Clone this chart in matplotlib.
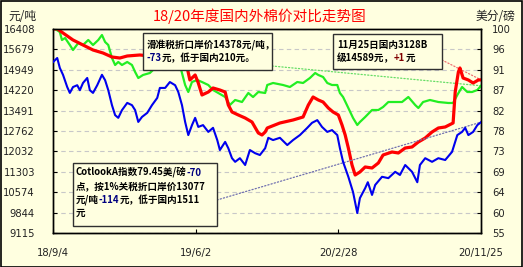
import matplotlib
matplotlib.use("Agg")
import matplotlib.pyplot as plt
import matplotlib.transforms as mtransforms
from matplotlib.patches import Rectangle
import numpy as np
import pandas as pd

plt.rcParams['font.family'] = ['Noto Sans CJK SC', 'DejaVu Sans']

BASE = pd.Timestamp('2018-09-04')
END = pd.Timestamp('2020-11-25')

# Domestic 3128B price (yuan/ton) - day offsets from 2018-09-04
red_days = [0, 8, 19, 38, 57, 76, 95, 112, 127, 141, 165, 203, 232, 247, 255, 260, 270, 276, 283, 295,
            304, 317, 327, 333, 340, 352, 365, 378, 390, 397, 403, 407, 431, 456, 475, 485, 494, 504, 513,
            523, 532, 542, 549, 555, 561, 568, 574, 583, 593, 606, 618, 627, 644, 656, 669, 682, 694, 707,
            720, 732, 745, 760, 764, 770, 773, 779, 789, 798, 808, 813]
red_vals = [16408, 16420, 16265, 16015, 15836, 15657, 15550, 15407, 15371, 15443, 15479, 15407, 15300, 15121,
            15014, 14585, 14764, 14478, 14049, 14156, 14299, 14227, 14156, 13691, 13441, 13334, 13226, 13083,
            12690, 12619, 12726, 12869, 13048, 13155, 13262, 13691, 13977, 13870, 13798, 13584, 13441, 13334,
            12976, 12619, 12154, 11546, 11189, 11296, 11475, 11439, 11618, 11904, 12011, 11975, 12154, 12190,
            12368, 12511, 12726, 12869, 12905, 13048, 14156, 14871, 15014, 14656, 14585, 14477, 14585, 14589]

# Sliding-duty import price (yuan/ton)
green_days = [4, 13, 17, 23, 32, 38, 48, 57, 67, 76, 86, 93, 99, 105, 112, 118, 124, 131, 141, 150, 156,
              162, 171, 184, 194, 203, 241, 251, 257, 264, 274, 283, 295, 304, 314, 327, 336, 346, 359, 371,
              380, 390, 403, 407, 418, 437, 450, 464, 475, 488, 498, 504, 513, 521, 530, 540, 545, 551, 561,
              570, 578, 583, 593, 606, 618, 627, 637, 650, 663, 675, 688, 694, 703, 716, 732, 751, 760, 768,
              777, 787, 796, 806, 813]
green_vals = [16408, 16301, 16015, 16086, 15836, 15657, 15907, 15836, 16015, 15836, 16015, 16193, 15943,
              15836, 15371, 15121, 15229, 15121, 15229, 15121, 14871, 14656, 14764, 14835, 15014, 15193,
              15121, 14406, 14156, 14513, 14585, 14513, 14406, 14227, 14120, 13977, 13691, 13870, 13798,
              14120, 13977, 14156, 14120, 14406, 14478, 14406, 14335, 14513, 14478, 14656, 14835, 14764,
              14692, 14478, 14406, 14406, 14120, 13977, 13584, 13226, 12976, 13083, 13262, 13512, 13512,
              13619, 13798, 13798, 13798, 13977, 13691, 13584, 13798, 13870, 13798, 13763, 13763, 14049,
              14335, 14156, 14156, 14227, 14378]

# Cotlook A index (US cents/lb)
blue_days = [0, 8, 13, 19, 27, 32, 38, 46, 51, 57, 65, 70, 76, 84, 93, 99, 105, 112, 118, 124, 131, 141,
             150, 156, 162, 169, 179, 188, 198, 203, 213, 222, 232, 238, 245, 251, 257, 264, 270, 276, 285,
             295, 304, 312, 317, 327, 333, 340, 346, 355, 365, 374, 384, 393, 403, 409, 418, 431, 445, 456,
             469, 483, 492, 502, 511, 521, 530, 540, 545, 551, 561, 570, 578, 583, 593, 598, 606, 612, 625,
             637, 650, 659, 669, 682, 692, 697, 707, 720, 732, 745, 758, 768, 777, 783, 789, 798, 806, 813]
blue_vals = [92.7, 93.6, 91.4, 89.9, 87.2, 85.9, 87.2, 87.6, 86.5, 88.1, 89.2, 86.5, 85.9, 87.6, 89.9,
             88.7, 86.5, 83.2, 81.0, 80.4, 82.1, 83.7, 83.2, 82.1, 79.5, 80.6, 81.5, 83.2, 84.8, 87.0,
             87.0, 88.3, 87.6, 86.1, 83.2, 79.5, 76.6, 78.8, 80.4, 78.4, 78.8, 77.3, 78.2, 75.5, 73.3,
             75.1, 73.7, 71.5, 70.7, 71.5, 70.0, 73.3, 72.6, 72.2, 73.7, 76.0, 75.5, 76.0, 74.4, 75.5,
             76.6, 78.2, 79.3, 79.9, 78.4, 77.3, 77.7, 76.6, 73.7, 70.7, 67.4, 64.0, 59.4, 62.7, 64.9,
             66.2, 63.4, 65.6, 67.4, 67.1, 68.5, 67.8, 70.0, 68.5, 66.2, 70.0, 71.5, 70.7, 71.5, 71.1,
             72.9, 76.6, 77.3, 78.2, 76.6, 77.3, 78.8, 79.45]

left_ticks = [16408, 15679, 14949, 14220, 13491, 12762, 12032, 11303, 10574, 9844, 9115]
right_labels = ['100', '96', '91', '87', '82', '78', '73', '69', '64', '60', '55']
x_tick_dates = ['2018-09-04', '2019-06-02', '2020-02-28', '2020-11-25']
x_tick_labels = ['18/9/4', '19/6/2', '20/2/28', '20/11/25']

title = '18/20年度国内外棉价对比走势图'
box1_lines = [[('滑准税折口岸价14378元/吨，', 'black')],
              [('-73', '#000080'), ('元，低于国内210元。', 'black')]]
box2_lines = [[('11月25日国内3128B', 'black')],
              [('级14589元，', 'black'), ('+1', '#800000'), ('元', 'black')]]
box3_lines = [[('CotlookA指数79.45美/磅', 'black'), ('-70', '#000080')],
              [('点，按1%关税折口岸价13077', 'black')],
              [('元/吨', 'black'), ('-114', '#000080'), ('元，低于国内1511', 'black')],
              [('元', 'black')]]

BG = '#FFFFE0'
W, H = 523, 267
fig = plt.figure(figsize=(W / 100, H / 100), dpi=100, facecolor=BG)
ax = fig.add_axes([53 / W, 1 - 233 / H, 428 / W, 204 / H])
ax.set_facecolor(BG)
ax2 = ax.twinx()

def to_dates(days):
    return BASE + pd.to_timedelta(days, unit='D')

ax.plot(to_dates(green_days), green_vals, color='#22EE22', lw=1.6, zorder=3)
ax.plot(to_dates(red_days), red_vals, color='#FF0000', lw=2.3, zorder=4)
ax2.plot(to_dates(blue_days), blue_vals, color='#0000EE', lw=1.5, zorder=3)

ax.set_xlim(BASE, END)
ax.set_ylim(9115, 16408)
ax2.set_ylim(55, 100)
ax.set_yticks(left_ticks)
ax.set_yticklabels([str(v) for v in left_ticks])
ax2.set_yticks(np.linspace(100, 55, 11))
ax2.set_yticklabels(right_labels)
ax.set_xticks(pd.to_datetime(x_tick_dates))
ax.set_xticklabels(x_tick_labels)

ax.grid(axis='y', color='#C8C8C8', linestyle=(0, (4, 3)), lw=0.8)
for a in (ax, ax2):
    for s in a.spines.values():
        s.set_color('black')
        s.set_linewidth(1.0)
ax.tick_params(axis='y', direction='in', length=3, pad=13, labelsize=7.2, colors='black', labelcolor='#222222')
ax2.tick_params(axis='y', direction='in', length=3, pad=8, labelsize=7.2, colors='black', labelcolor='#222222')
ax.tick_params(axis='x', direction='in', length=3, pad=11, labelsize=7.2, colors='black', labelcolor='#222222')
for lab in ax.get_yticklabels() + ax2.get_yticklabels() + ax.get_xticklabels():
    lab.set_family(['DejaVu Sans'])

fig.text(0.497, 1 - 16 / H, title, color='#FF0000', fontsize=10.5, ha='center', va='center')
fig.text(8 / W, 1 - 16 / H, '元/吨', color='#222222', fontsize=8.5, ha='left', va='center')
fig.text(515 / W, 1 - 16 / H, '美分/磅', color='#222222', fontsize=8.5, ha='right', va='center')

# outer frame
fig.patches.append(Rectangle((0.5 / W, 0.5 / H), 1 - 1.5 / W, 1 - 1.5 / H, transform=fig.transFigure,
                             fill=False, edgecolor='black', lw=1.2))

def px(x, y):
    return ((x - 53) / 428, (233 - y) / 204)

def box(x0, y0, x1, y1):
    a, b = px(x0, y1)
    c, d = px(x1, y0)
    ax2.add_patch(Rectangle((a, b), c - a, d - b, transform=ax2.transAxes, facecolor=BG,
                            edgecolor='#303030', lw=1.0, zorder=10, clip_on=False))

fig.canvas.draw()
renderer = fig.canvas.get_renderer()

def rich(x, y, segs):
    fx, fy = px(x, y)
    t = ax2.transAxes
    for s, c in segs:
        txt = ax2.text(fx, fy, s, color=c, transform=t, fontsize=6.9, fontweight='bold',
                       va='center', ha='left', zorder=11, clip_on=False)
        txt.draw(renderer)
        ex = txt.get_window_extent(renderer)
        t = mtransforms.offset_copy(txt.get_transform(), fig=fig, x=ex.width, units='dots')

# leader lines
ax.annotate('', xy=(to_dates([green_days[-1]])[0], green_vals[-1]), xycoords='data',
            xytext=px(272, 66), textcoords='axes fraction',
            arrowprops=dict(arrowstyle='-', linestyle=':', color='#66DD66', lw=0.9, shrinkA=0, shrinkB=0), zorder=2)
ax.annotate('', xy=(to_dates([red_days[-1]])[0], red_vals[-1]), xycoords='data',
            xytext=px(442, 60), textcoords='axes fraction',
            arrowprops=dict(arrowstyle='-', linestyle=':', color='#F07070', lw=0.9, shrinkA=0, shrinkB=0), zorder=2)
ax2.annotate('', xy=(to_dates([blue_days[-1]])[0], blue_vals[-1]), xycoords='data',
             xytext=px(217, 200), textcoords='axes fraction',
             arrowprops=dict(arrowstyle='-', linestyle=':', color='#7070B0', lw=0.9, shrinkA=0, shrinkB=0), zorder=2)

box(143, 33, 272, 70)
box(333, 34, 442, 69)
box(73, 163, 217, 226)

for i, line in enumerate(box1_lines):
    rich(147, [45, 58][i], line)
for i, line in enumerate(box2_lines):
    rich(337, [45, 58][i], line)
for i, line in enumerate(box3_lines):
    rich(76, [173, 186, 200, 213][i], line)

fig.savefig('out.png', dpi=100, facecolor=BG)
